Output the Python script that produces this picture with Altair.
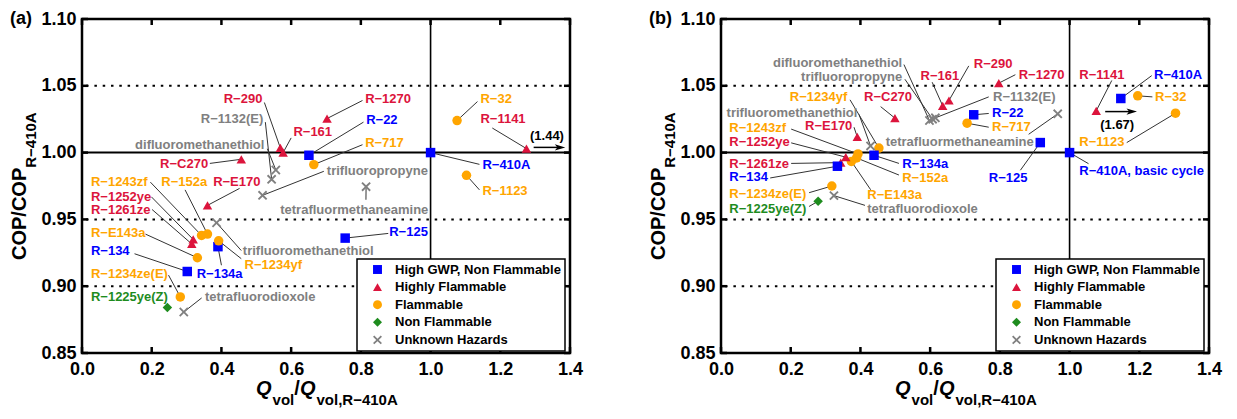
import altair as alt
import pandas as pd

FONT = "Liberation Sans"
MINUS = "\u2212"

# ---------------- categories / styling ----------------
CATS = ["High GWP, Non Flammable", "Highly Flammable", "Flammable", "Non Flammable", "Unknown Hazards"]
CAT_KEYS = ["H", "R", "F", "N", "U"]
CAT_COLORS = ["#0000FF", "#DC143C", "#FFA500", "#1E8C1E", "#808080"]
X_PATH = "M-1,-0.72L-0.72,-1L0,-0.28L0.72,-1L1,-0.72L0.28,0L1,0.72L0.72,1L0,0.28L-0.72,1L-1,0.72L-0.28,0Z"
CAT_SHAPES = ["square", "triangle-up", "circle", "diamond", X_PATH]
ARROW_HEAD = "M-1,-0.6L1,0L-1,0.6L-0.5,0Z"

X_TICKS = [0.0, 0.2, 0.4, 0.6, 0.8, 1.0, 1.2, 1.4]
Y_TICKS = [0.85, 0.90, 0.95, 1.00, 1.05, 1.10]
DOTTED_Y = [0.90, 0.95, 1.05]
SOLID_Y = [1.00]
SOLID_X = [1.00]
PANEL_TAGS = ["(a)", "(b)"]

# ---------------- panel (a) ----------------
A_NAMES = ["R-410A", "R-1141", "R-32", "R-1123", "R-1270", "R-22", "R-717", "R-290", "R-161",
           "R-1132(E)", "difluoromethanethiol", "trifluoropropyne", "tetrafluormethaneamine",
           "R-C270", "R-E170", "trifluoromethanethiol", "R-1243zf", "R-152a", "R-1252ye",
           "R-1261ze", "R-E143a", "R-134", "R-134a", "R-1234yf", "R-1234ze(E)", "R-1225ye(Z)",
           "tetrafluorodioxole", "R-125"]
A_CATS = ["H", "R", "F", "F", "R", "H", "F", "R", "R",
          "U", "U", "U", "U",
          "R", "R", "U", "F", "F", "R",
          "R", "F", "H", "H", "F", "F", "N",
          "U", "H"]
A_X = [1.000, 1.275, 1.076, 1.103, 0.703, 0.651, 0.665, 0.569, 0.577,
       0.544, 0.556, 0.518, 0.815,
       0.457, 0.360, 0.386, 0.343, 0.360, 0.319,
       0.315, 0.331, 0.302, 0.390, 0.392, 0.282, 0.245,
       0.292, 0.755]
A_Y = [1.000, 1.003, 1.024, 0.983, 1.0255, 0.998, 0.991, 1.0035, 1.000,
       0.980, 0.987, 0.968, 0.9745,
       0.995, 0.9605, 0.9475, 0.938, 0.939, 0.935,
       0.9316, 0.9213, 0.911, 0.9296, 0.934, 0.892, 0.884,
       0.8807, 0.936]
A_LABEL_X = [1.1487, 1.143, 1.143, 1.1487, 0.8123, 0.8152, 0.8123, 0.5175, 0.6065,
             0.5203, 0.5232, 0.7023, 0.5687,
             0.362, 0.3762, 0.4615, 0.0256, 0.2275, 0.0256,
             0.0256, 0.0256, 0.0256, 0.329, 0.4663, 0.0256, 0.0256,
             0.3526, 0.8814]
A_LABEL_Y = [0.9907, 1.0248, 1.0402, 0.9715, 1.0399, 1.0243, 1.0071, 1.0399, 1.0154,
             1.025, 1.0059, 0.986, 0.9574,
             0.9917, 0.9783, 0.9267, 0.9783, 0.9783, 0.9671,
             0.9574, 0.9395, 0.926, 0.9088, 0.9157, 0.9088, 0.8919,
             0.8919, 0.9402]
A_LABEL_ALIGN = ["left", "left", "left", "left", "left", "left", "left", "right", "left",
                 "right", "right", "left", "left",
                 "right", "left", "left", "left", "left", "left",
                 "left", "left", "left", "left", "left", "left", "left",
                 "left", "left"]
A_LEAD_X = [1.1402, 1.1771, 1.1345, 1.1402, 0.8047, 0.8075, 0.8047, 0.5232, 0.600,
            0.526, 0.5317, 0.6938, 0.8146,
            0.3668, 0.4521, 0.4569, 0.1962, 0.2957, 0.199,
            0.201, 0.182, 0.1507, 0.400, 0.4569, 0.2482, None,
            0.3432, 0.8786]
A_LEAD_Y = [0.9912, 1.0184, 1.0382, 0.9721, 1.039, 1.0228, 1.0059, 1.0375, 1.011,
            1.0228, 1.0029, 0.986, 0.9647,
            0.9919, 0.9732, 0.9267, 0.9779, 0.9721, 0.9669,
            0.9574, 0.939, 0.9243, 0.9157, 0.9206, 0.9083, None,
            0.8912, 0.9395]
A_ARROW_X = [1.2957, 1.3714]
A_ARROW_Y = [1.0039, 1.0039]
A_ARROW_TEXT = ["(1.44)"]
A_ARROW_TEXT_X = [1.2852]
A_ARROW_TEXT_Y = [1.0125]

# ---------------- panel (b) ----------------
B_NAMES = ["R-410A", "R-32", "R-1141", "R-1123", "R-410A, basic cycle", "R-125",
           "tetrafluormethaneamine", "R-22", "R-717", "R-1270", "R-290", "R-161",
           "difluoromethanethiol", "trifluoropropyne", "R-1132(E)", "R-C270", "R-E170",
           "R-1234yf", "trifluoromethanethiol", "R-134a", "R-1243zf", "R-152a", "R-E143a",
           "R-1252ye", "R-1261ze", "R-134", "R-1234ze(E)", "R-1225ye(Z)", "tetrafluorodioxole"]
B_CATS = ["H", "F", "R", "F", "H", "H",
          "U", "H", "F", "R", "R", "R",
          "U", "U", "U", "R", "R",
          "F", "U", "H", "F", "F", "F",
          "R", "R", "H", "F", "N", "U"]
B_X = [1.147, 1.1955, 1.0765, 1.304, 1.000, 0.916,
       0.966, 0.725, 0.706, 0.797, 0.654, 0.636,
       0.598, 0.607, 0.615, 0.499, 0.391,
       0.453, 0.429, 0.439, 0.393, 0.389, 0.374,
       0.358, 0.3435, 0.334, 0.318, 0.2786, 0.324]
B_Y = [1.0405, 1.0425, 1.0313, 1.0295, 1.000, 1.0075,
       1.029, 1.0283, 1.022, 1.052, 1.039, 1.035,
       1.024, 1.025, 1.026, 1.0258, 1.0117,
       1.0034, 1.005, 0.998, 0.999, 0.996, 0.9934,
       0.9966, 0.9925, 0.9898, 0.975, 0.9636, 0.9678]
B_LABEL_X = [1.2425, 1.2453, 1.0278, 1.0278, 1.0278, 0.7681,
             0.4724, 0.7776, 0.7776, 0.854, 0.7252, 0.5726,
             0.5199, 0.5199, 0.7804, 0.4103, 0.3768,
             0.3624, 0.3911, 0.5199, 0.0238, 0.5199, 0.4197,
             0.0238, 0.0238, 0.0238, 0.0238, 0.0238, 0.4197]
B_LABEL_Y = [1.058, 1.0417, 1.058, 1.0083, 0.9863, 0.9807,
             1.0083, 1.0295, 1.019, 1.058, 1.0661, 1.0571,
             1.0673, 1.0569, 1.0417, 1.0417, 1.0198,
             1.0417, 1.030, 0.9912, 1.0185, 0.9807, 0.9685,
             1.0083, 0.9917, 0.9815, 0.9693, 0.9581, 0.9581]
B_LABEL_ALIGN = ["left", "left", "left", "left", "left", "left",
                 "left", "left", "left", "left", "left", "left",
                 "right", "right", "left", "left", "right",
                 "right", "right", "left", "left", "left", "left",
                 "left", "left", "left", "left", "left", "left"]
B_LEAD_X = [1.2356, 1.2376, 1.1211, 1.164, 1.0544, 0.8589,
            0.8826, 0.7681, 0.7681, 0.8445, 0.7108, 0.6058,
            0.5248, 0.5276, 0.7681, 0.458, 0.3816,
            0.3702, 0.3959, 0.5105, 0.2013, 0.5105, 0.4294,
            0.2013, 0.2013, 0.1411, 0.2528, 0.2528, 0.4131]
B_LEAD_Y = [1.0576, 1.0417, 1.054, 1.0075, 0.9917, 0.9868,
            1.0137, 1.0293, 1.019, 1.0583, 1.0649, 1.0527,
            1.0659, 1.0549, 1.0417, 1.0344, 1.019,
            1.0395, 1.0286, 0.9919, 1.0176, 0.9832, 0.9722,
            1.0073, 0.9919, 0.981, 0.970, 0.9597, 0.9605]
B_ARROW_X = [1.1022, 1.1784]
B_ARROW_Y = [1.0307, 1.0307]
B_ARROW_TEXT = ["(1.67)"]
B_ARROW_TEXT_X = [1.0879]
B_ARROW_TEXT_Y = [1.021]

W, H = 488, 334
KEY_CAT = dict(zip(CAT_KEYS, CATS))
KEY_COL = dict(zip(CAT_KEYS, CAT_COLORS))


def text_piece(txt, x, y, size, style="normal", angle=0):
    kw = dict(align="left", baseline="alphabetic", fontSize=size, fontWeight="bold",
              font=FONT, fontStyle=style, color="black")
    if angle:
        kw["angle"] = angle
    return alt.Chart(pd.DataFrame({"t": [txt]})).mark_text(**kw).encode(
        text="t:N", x=alt.value(x), y=alt.value(y))


def panel(tag, names, cats, px, py, lab_x, lab_y, lab_align, lead_x, lead_y,
          arr_x, arr_y, arr_txt, arr_tx, arr_ty):
    pts = pd.DataFrame({"name": names, "cat": [KEY_CAT[k] for k in cats], "x": px, "y": py})
    lab = pd.DataFrame({
        "label": [n.replace("-", MINUS) for n in names],
        "lx": lab_x, "ly": lab_y, "align": lab_align,
        "hex": [KEY_COL[k] for k in cats],
        "x": px, "y": py,
        "ax": [float("nan") if v is None else v for v in lead_x],
        "ay": [float("nan") if v is None else v for v in lead_y],
    })
    xsc = alt.Scale(domain=[0, 1.4], nice=False, zero=False)
    ysc = alt.Scale(domain=[0.85, 1.10], nice=False, zero=False)
    xax = alt.Axis(values=X_TICKS, format=".1f", title=None, grid=False, domain=False,
                   ticks=False, tickSize=0, labelPadding=7, labelFlush=False, labelOverlap=False)
    yax = alt.Axis(values=Y_TICKS, format=".2f", title=None, grid=False, domain=False,
                   ticks=False, tickSize=0, labelPadding=6, labelFlush=False, labelOverlap=False)

    def X(f):
        return alt.X(f"{f}:Q", scale=xsc, axis=xax)

    def Y(f):
        return alt.Y(f"{f}:Q", scale=ysc, axis=yax)

    dotted = alt.Chart(pd.DataFrame({"y": DOTTED_Y})).mark_rule(
        color="black", strokeWidth=2, strokeDash=[2.5, 5.8]).encode(y=Y("y"))
    hline = alt.Chart(pd.DataFrame({"y": SOLID_Y})).mark_rule(
        color="black", strokeWidth=2).encode(y=Y("y"))
    vline = alt.Chart(pd.DataFrame({"x": SOLID_X})).mark_rule(
        color="black", strokeWidth=1.6).encode(x=X("x"))

    xt = pd.DataFrame({"v": X_TICKS})
    yt = pd.DataFrame({"v": Y_TICKS})
    tk = dict(color="black", strokeWidth=2.5)
    t_top = alt.Chart(xt).mark_rule(**tk).encode(x=X("v"), y=alt.value(0), y2=alt.value(6))
    t_bot = alt.Chart(xt).mark_rule(**tk).encode(x=X("v"), y=alt.value(H - 6), y2=alt.value(H))
    t_left = alt.Chart(yt).mark_rule(**tk).encode(y=Y("v"), x=alt.value(0), x2=alt.value(6))
    t_right = alt.Chart(yt).mark_rule(**tk).encode(y=Y("v"), x=alt.value(W - 6), x2=alt.value(W))

    leaders = alt.Chart(lab.dropna(subset=["ax"])).mark_rule(
        color="#333333", strokeWidth=1).encode(
        x=X("ax"), y=Y("ay"), x2=alt.X2("x"), y2=alt.Y2("y"))

    legend = alt.Legend(title=None, orient="none", legendX=275, legendY=H - 94,
                        strokeColor="black", fillColor="white", padding=4,
                        symbolOffset=10, labelOffset=11, rowPadding=3.6,
                        labelFont=FONT, labelFontSize=13, labelFontWeight="bold",
                        labelColor="black", symbolSize=80, symbolStrokeWidth=0,
                        labelLimit=400)
    points = alt.Chart(pts).mark_point(filled=True, opacity=1, size=90, strokeWidth=0).encode(
        x=X("x"), y=Y("y"),
        color=alt.Color("cat:N", scale=alt.Scale(domain=CATS, range=CAT_COLORS), legend=legend),
        shape=alt.Shape("cat:N", scale=alt.Scale(domain=CATS, range=CAT_SHAPES), legend=legend),
    )

    label_layers = []
    for al in ["left", "right"]:
        sub = lab[lab["align"] == al]
        label_layers.append(
            alt.Chart(sub).mark_text(align=al, baseline="middle", fontSize=13,
                                     fontWeight="bold", font=FONT).encode(
                x=X("lx"), y=Y("ly"), text="label:N",
                fill=alt.Fill("hex:N", scale=None)))

    arr = pd.DataFrame({"x": [arr_x[0]], "x2": [arr_x[1]], "y": [arr_y[0]]})
    arrow_line = alt.Chart(arr).mark_rule(color="black", strokeWidth=1.5).encode(
        x=X("x"), x2=alt.X2("x2"), y=Y("y"))
    arrow_head = alt.Chart(arr).mark_point(
        shape=ARROW_HEAD, filled=True, color="black", opacity=1, size=110).encode(
        x=X("x2"), y=Y("y"))
    arrow_text = alt.Chart(pd.DataFrame({"t": arr_txt, "x": arr_tx, "y": arr_ty})).mark_text(
        align="left", baseline="middle", fontSize=13, fontWeight="bold", font=FONT,
        color="black").encode(x=X("x"), y=Y("y"), text="t:N")

    tag_mark = alt.Chart(pd.DataFrame({"t": [tag]})).mark_text(
        align="left", baseline="middle", fontSize=18, fontWeight="bold", font=FONT,
        color="black").encode(text="t:N", x=alt.value(-72), y=alt.value(0))

    # axis titles with subscripts
    ystart = H / 2 + 74
    y_main = text_piece("COP/COP", -56, ystart, 20, angle=270)
    y_sub = text_piece("R" + MINUS + "410A", -46, ystart - 92.2, 15, angle=270)
    xb, xs = H + 42, H + 52
    x0 = W / 2 - 70
    x_q1 = text_piece("Q", x0, xb, 20, style="italic")
    x_v1 = text_piece("vol", x0 + 16.6, xs, 15)
    x_sl = text_piece("/", x0 + 38.3, xb, 20)
    x_q2 = text_piece("Q", x0 + 43.9, xb, 20, style="italic")
    x_v2 = text_piece("vol,R" + MINUS + "410A", x0 + 60.5, xs, 15)

    return alt.layer(
        dotted, hline, vline, t_top, t_bot, t_left, t_right, leaders, points,
        *label_layers, arrow_line, arrow_head, arrow_text, tag_mark,
        y_main, y_sub, x_q1, x_v1, x_sl, x_q2, x_v2,
    ).properties(width=W, height=H)


pa = panel(PANEL_TAGS[0], A_NAMES, A_CATS, A_X, A_Y, A_LABEL_X, A_LABEL_Y, A_LABEL_ALIGN,
           A_LEAD_X, A_LEAD_Y, A_ARROW_X, A_ARROW_Y, A_ARROW_TEXT, A_ARROW_TEXT_X, A_ARROW_TEXT_Y)
pb = panel(PANEL_TAGS[1], B_NAMES, B_CATS, B_X, B_Y, B_LABEL_X, B_LABEL_Y, B_LABEL_ALIGN,
           B_LEAD_X, B_LEAD_Y, B_ARROW_X, B_ARROW_Y, B_ARROW_TEXT, B_ARROW_TEXT_X, B_ARROW_TEXT_Y)

chart = alt.hconcat(pa, pb, spacing=63).resolve_scale(
    x="independent", y="independent", color="independent", shape="independent"
).resolve_legend(color="independent", shape="independent").properties(
    padding=0
).configure(font=FONT).configure_view(
    stroke="black", strokeWidth=2.5
).configure_axis(
    labelFont=FONT, labelFontSize=18, labelFontWeight="bold", labelColor="black"
).configure_legend(strokeWidth=1.5)

chart.save("out.html", embed_options={"renderer": "svg", "actions": False})
